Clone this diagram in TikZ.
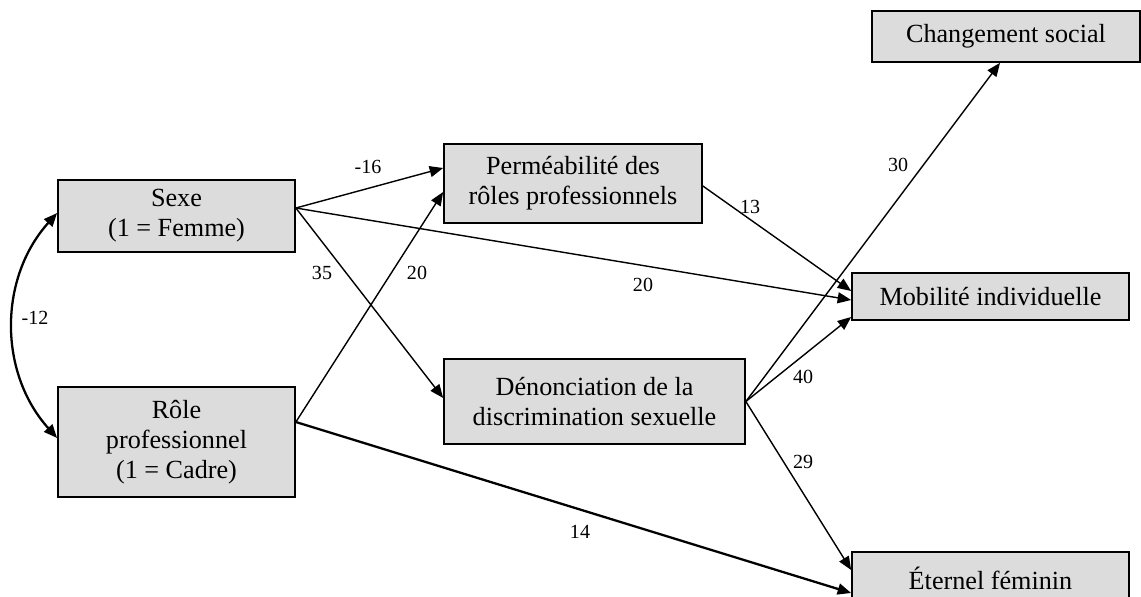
\documentclass[tikz,border=0pt]{standalone}
\usepackage{fontspec}
\setmainfont{Liberation Serif}
\usetikzlibrary{arrows.meta,positioning,calc}
\definecolor{boxgray}{RGB}{220,220,220}
\newcommand{\varfont}{\fontsize{14.9}{17.1}\selectfont}
\newcommand{\coeffont}{\fontsize{11.4}{13}\selectfont}

\begin{document}
\begin{tikzpicture}[
    x=0.02cm, y=-0.02cm,
    var/.style={draw, line width=1pt, fill=boxgray, align=center, font=\varfont, inner sep=0pt},
    tip/.style={Triangle[length=0.27cm, width=0.22cm]},
    arrow/.style={-{Triangle[length=0.27cm, width=0.22cm]}, line width=0.8pt},
    thickarrow/.style={arrow, line width=1.3pt},
    coef/.style={font=\coeffont, inner sep=0pt}
]
\useasboundingbox (0,0) rectangle (1141,596);

% Exogenous variables
\node[var, minimum width=4.74cm, minimum height=1.44cm] (sexe) at (176.5, 216) {Sexe\\(1 = Femme)};
\node[var, minimum width=4.74cm, minimum height=2.2cm] (role) at (176.5, 442) {R\^ole\\professionnel\\(1 = Cadre)};

% Mediators
\node[var, minimum width=5.16cm, minimum height=1.58cm] (perm) at (573, 183.5) {Perm\'eabilit\'e des\\r\^oles professionnels};
\node[var, minimum width=6.02cm, minimum height=1.7cm] (denon) at (594.5, 401.5) {D\'enonciation de la\\discrimination sexuelle};

% Outcomes
\node[var, minimum width=5.36cm, minimum height=1.02cm] (chang) at (1006, 36.5) {Changement social};
\node[var, minimum width=5.54cm, minimum height=0.94cm] (mobil) at (990.5, 296.5) {Mobilit\'e individuelle};
\node[var, minimum width=5.54cm, minimum height=1.04cm] (etern) at (990.5, 578) {\'Eternel f\'eminin};

% Correlation
\draw[{Triangle[length=0.27cm, width=0.22cm]}-{Triangle[length=0.27cm, width=0.22cm]}, line width=1.3pt]
    ([yshift=0.06cm]sexe.west) to[bend right=42] ([yshift=0.08cm]role.west);

% Paths
\draw[arrow] ([yshift=0.16cm]sexe.east) -- ([yshift=0.31cm]perm.west);
\draw[arrow] ([yshift=0.16cm]sexe.east) -- ([yshift=-0.07cm]mobil.west);
\draw[arrow] ([yshift=0.16cm]sexe.east) -- ([yshift=0.07cm]denon.west);
\draw[arrow] ([yshift=0.4cm]role.east) -- ([yshift=-0.17cm]perm.west);
\draw[thickarrow] ([yshift=0.4cm]role.east) -- ([yshift=-0.3cm]etern.west);
\draw[arrow] ([yshift=-0.05cm]perm.east) -- ([yshift=0.11cm]mobil.west);
\draw[arrow] (denon.east) -- ([xshift=-0.12cm]chang.south);
\draw[arrow] (denon.east) -- ([yshift=-0.41cm]mobil.west);
\draw[arrow] (denon.east) -- ([yshift=0.16cm]etern.west);

% Coefficients
\node[coef] (c12) at (35, 318) {-12};
\node[coef] (c16) at (368, 167) {-16};
\node[coef] (c35) at (322, 273) {35};
\node[coef] (c20a) at (417, 273) {20};
\node[coef] (c20b) at (643, 285) {20};
\node[coef] (c13) at (750, 207) {13};
\node[coef] (c30) at (898, 165) {30};
\node[coef] (c40) at (803, 377) {40};
\node[coef] (c29) at (803, 462) {29};
\node[coef] (c14) at (580, 532) {14};

\end{tikzpicture}
\end{document}
